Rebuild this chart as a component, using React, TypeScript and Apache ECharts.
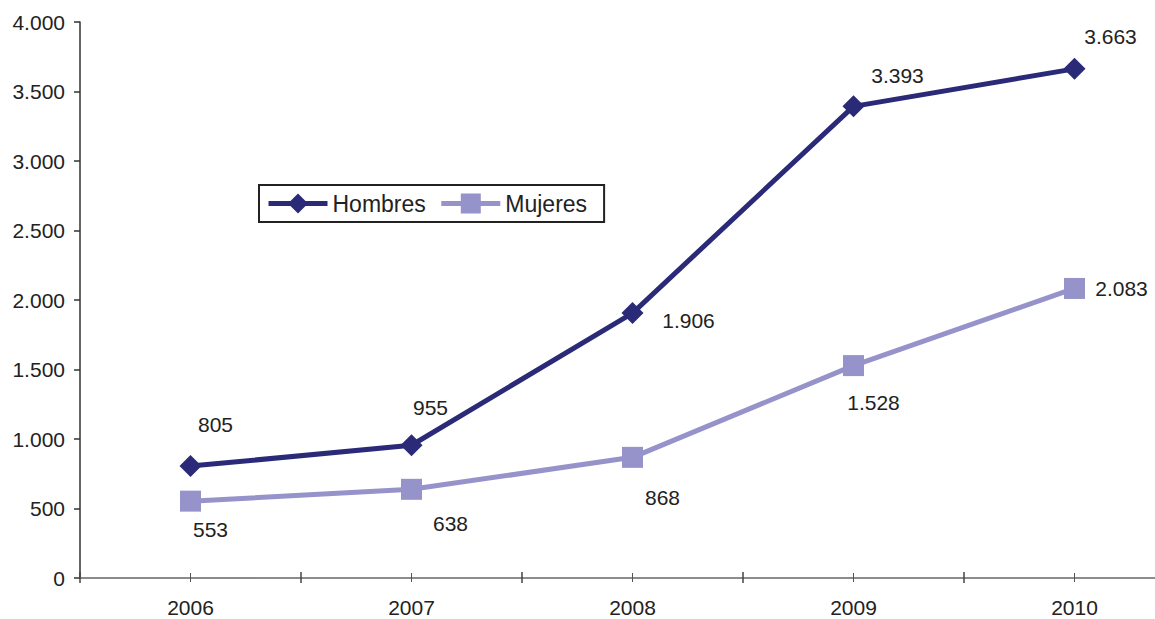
import React, { useEffect, useRef } from "react";
import * as echarts from "echarts";

const years = ["2006", "2007", "2008", "2009", "2010"];
const hombres = [805, 955, 1906, 3393, 3663];
const mujeres = [553, 638, 868, 1528, 2083];
const yTicks = [0, 500, 1000, 1500, 2000, 2500, 3000, 3500, 4000];

// label offsets (styling only, relative to each point)
const hombresLabelOffsets = [[25, -42], [19, -38], [56, 7], [44, -31], [36, -32]];
const mujeresLabelOffsets = [[20, 28], [39, 34], [30, 40], [20, 37], [47, 0]];

const FONT = '"Liberation Sans", Arial, Helvetica, sans-serif';
const fmt = (v: number) => String(v).replace(/\B(?=(\d{3})+(?!\d))/g, ".");

export default function App() {
  const ref = useRef<HTMLDivElement>(null);
  useEffect(() => {
    if (!ref.current) return;
    const chart = echarts.init(ref.current, null, { renderer: "svg" });
    const tickAxis = (extra: any) => ({
      type: "category",
      data: years,
      position: "bottom",
      offset: 0,
      axisLine: { show: false },
      axisLabel: { show: false },
      splitLine: { show: false },
      ...extra,
    });
    const mkData = (vals: number[], offs: number[][]) =>
      vals.map((v, i) => ({
        value: v,
        label: { offset: offs[i] },
      }));
    chart.setOption({
      animation: false,
      textStyle: { fontFamily: FONT },
      grid: { left: 80, width: 1105, top: 22, height: 556, containLabel: false, outerBoundsMode: "none" },
      legend: {
        left: 259,
        top: 185,
        orient: "horizontal",
        padding: [7, 17, 7, 7],
        itemWidth: 59,
        itemHeight: 25,
        itemGap: 13,
        borderColor: "#222",
        borderWidth: 2,
        lineStyle: { width: 5 },
        textStyle: { fontSize: 23, color: "#222", fontFamily: FONT },
        data: ["Hombres", "Mujeres"],
      },
      xAxis: [
        {
          type: "category",
          data: years,
          position: "bottom",
          boundaryGap: true,
          axisLine: { show: true, lineStyle: { color: "#666", width: 1.5 } },
          axisTick: { show: true, inside: false, length: 5, lineStyle: { color: "#444", width: 1.5 } },
          axisLabel: { color: "#222", fontSize: 21, margin: 19, fontFamily: FONT },
          splitLine: { show: false },
        },
        tickAxis({ boundaryGap: true, axisTick: { show: true, inside: true, length: 6, lineStyle: { color: "#444", width: 1.5 } } }),
        tickAxis({ boundaryGap: true, axisTick: { show: true, alignWithLabel: true, inside: true, length: 5, lineStyle: { color: "#555", width: 1 } } }),
        tickAxis({ boundaryGap: true, axisTick: { show: true, alignWithLabel: true, inside: false, length: 4, lineStyle: { color: "#555", width: 1 } } }),
      ],
      yAxis: {
        type: "value",
        min: yTicks[0],
        max: yTicks[yTicks.length - 1],
        interval: 500,
        axisLine: { show: true, lineStyle: { color: "#333", width: 1.5 } },
        axisTick: { show: true, inside: false, length: 6, lineStyle: { color: "#333", width: 1.5 } },
        axisLabel: { color: "#222", fontSize: 21, margin: 15, fontFamily: FONT, formatter: (v: number) => fmt(v) },
        splitLine: { show: false },
      },
      series: [
        {
          name: "Hombres",
          type: "line",
          xAxisIndex: 0,
          data: mkData(hombres, hombresLabelOffsets),
          symbol: "diamond",
          symbolSize: 22,
          lineStyle: { color: "#2A2A78", width: 5 },
          itemStyle: { color: "#2A2A78" },
          label: {
            show: true,
            position: "inside",
            align: "center",
            verticalAlign: "middle",
            color: "#222",
            fontSize: 21,
            fontFamily: FONT,
            formatter: (p: any) => fmt(p.value),
          },
          z: 3,
        },
        {
          name: "Mujeres",
          type: "line",
          xAxisIndex: 0,
          data: mkData(mujeres, mujeresLabelOffsets),
          symbol: "rect",
          symbolSize: 21,
          lineStyle: { color: "#9593CA", width: 5 },
          itemStyle: { color: "#9593CA" },
          label: {
            show: true,
            position: "inside",
            align: "center",
            verticalAlign: "middle",
            color: "#222",
            fontSize: 21,
            fontFamily: FONT,
            formatter: (p: any) => fmt(p.value),
          },
          z: 2,
        },
      ],
    });
    return () => chart.dispose();
  }, []);
  return (
    <div
      ref={ref}
      style={{ position: "absolute", left: 0, top: 0, width: 1155, height: 619, background: "#fff" }}
    />
  );
}
